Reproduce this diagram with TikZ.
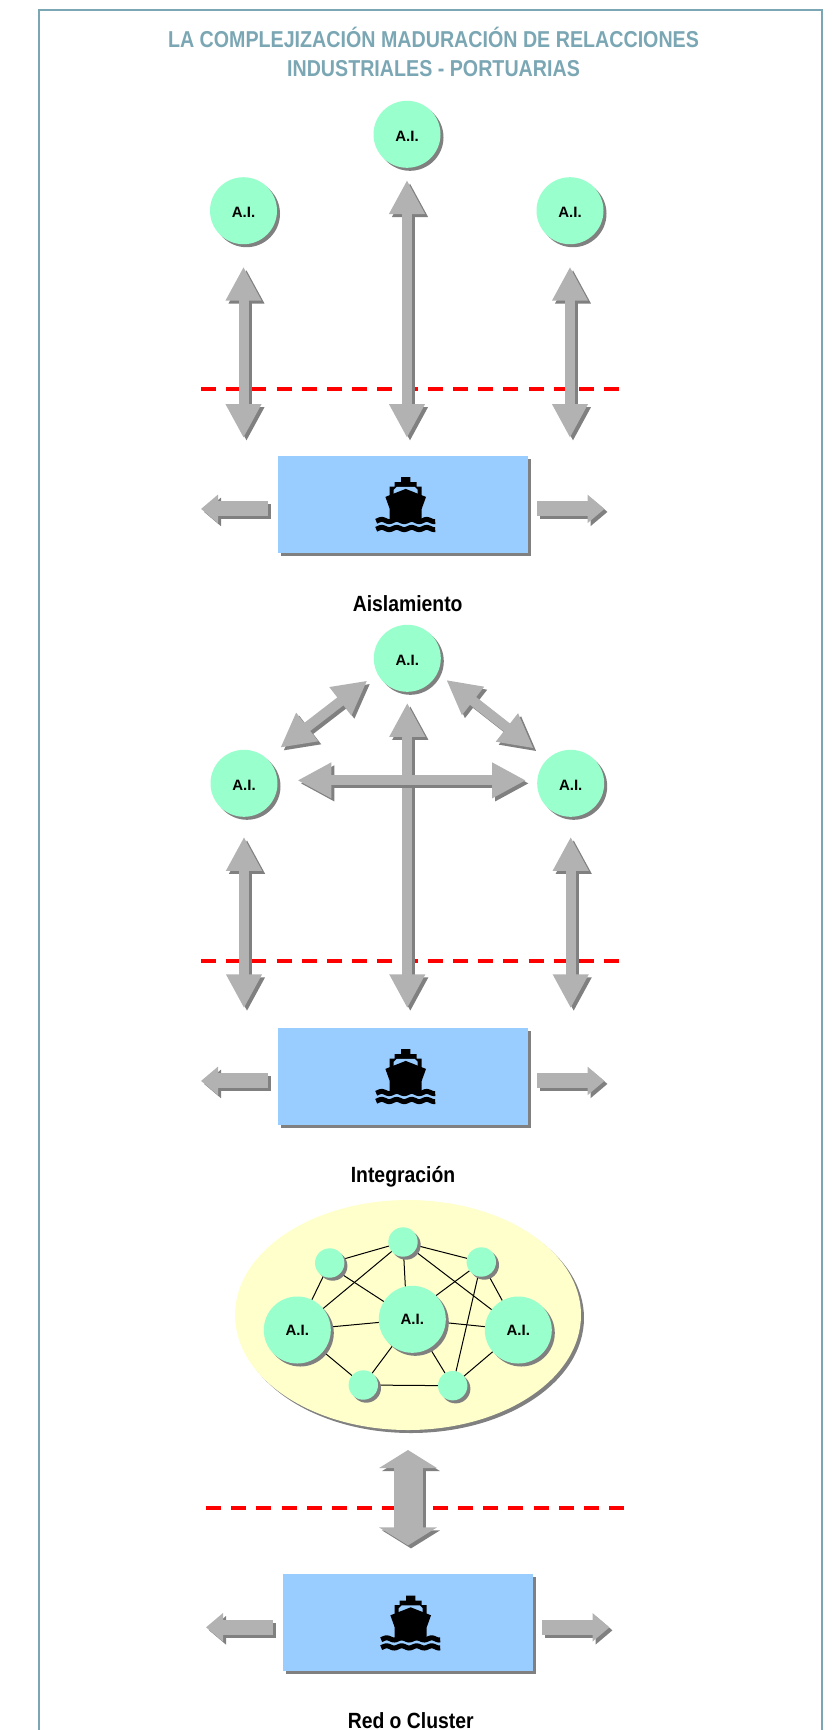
\documentclass[tikz,border=0pt]{standalone}
\usepackage{fontspec}
\setmainfont{Liberation Sans}
\newfontfamily\narrowfont[FakeStretch=0.88]{Liberation Sans}
\newfontfamily\titlefont[FakeStretch=0.855]{Liberation Sans}
\usetikzlibrary{arrows.meta,shapes.geometric,shadows,backgrounds}
\definecolor{framecolor}{HTML}{7BA7B4}
\definecolor{aicolor}{HTML}{99FFCC}
\definecolor{boxcolor}{HTML}{99CCFF}
\definecolor{clustercolor}{HTML}{FFFFCC}
\definecolor{arrowgray}{HTML}{B2B2B2}
\definecolor{shadowgray}{HTML}{808080}
\begin{document}
\begin{tikzpicture}[x=1pt,y=-1pt]

    \tikzset{
      dropped/.style={
        general shadow={shadow xshift=3pt,shadow yshift=-3pt,fill=shadowgray},
      },
      aicircle/.style={
        dropped,
        circle,
        fill=aicolor,
        inner sep=0pt,
        outer sep=0pt,
        minimum size=67pt,
        font=\fontsize{15}{15}\selectfont\bfseries,
      },
      aicirclelow/.style={
        aicircle,
        text height=13.7pt,
      },
      smallcircle/.style={
        aicircle,
        minimum size=29.4pt,
      },
      portbox/.style={
        dropped,
        rectangle,
        fill=boxcolor,
        inner sep=0pt,
        outer sep=0pt,
        minimum width=250pt,
        minimum height=97pt,
      },
      caption/.style={
        anchor=base,
        inner sep=0pt,
        font=\fontsize{22}{22}\selectfont\bfseries\narrowfont,
      },
      limit/.style={
        red,
        line width=4pt,
        dash pattern=on 15pt off 10.2pt,
      },
      blockarrow/.style={
        draw=arrowgray,
        line width=#1,
        preaction={draw=shadowgray,line width=#1,transform canvas={shift={(3pt,-3pt)}}},
      },
      linkarrow/.style={
        blockarrow=10pt,
        >={Triangle[length=34pt,width=33.5pt]},
        <->,
      },
      exitarrow/.style={
        blockarrow=15pt,
        ->,
        >={Triangle[length=17pt,width=27.5pt]},
      },
      shipicon/.pic={
        \fill (-4.6,-27.7) -- (4.6,-27.7) -- (4.6,-22.7) -- (11,-22.7) -- (11,-18.3) -- (16,-18.3)
          -- (16,-8) -- (-16,-8) -- (-16,-18.3) -- (-11,-18.3) -- (-11,-22.7) -- (-4.6,-22.7) -- cycle;
        \fill[boxcolor] (-12,-15) -- (-9,-18) -- (9,-18) -- (12,-15) -- (12,-9) -- (-12,-9) -- cycle;
        \fill (0,-16) -- (20.3,-8) -- (16,4) -- (16,17) -- (-16,17) -- (-16,4) -- (-20.3,-8) -- cycle;
        \draw[line width=5pt] plot[smooth,domain=-29.5:29.5,samples=50] (\x,{15.6+1.1*cos((\x+1.5)*24)});
        \draw[line width=5pt] plot[smooth,domain=-29.5:29.5,samples=50] (\x,{23.6+1.1*cos((\x+1.5)*24)});
      },
    }
    \useasboundingbox (0,0) rectangle (833,1730);
    \draw[framecolor,line width=2pt] (39,1731) -- (39,10) -- (822,10) -- (822,1731);
    \node[align=center,text=framecolor,font=\fontsize{23}{29.5}\selectfont\bfseries\titlefont] (title) at (433.5,52) {LA COMPLEJIZACIÓN MADURACIÓN DE RELACCIONES\\INDUSTRIALES - PORTUARIAS};

    \draw[limit] (201,389) -- (619,389);
    \draw[limit] (201,961) -- (619,961);
    \draw[limit] (206,1507.7) -- (624,1507.7);

    \foreach \n/\xpos/\ypos in {1/403/504.5,2/403/1076.5,3/408/1622.9}{
      \node[portbox] (box\n) at (\xpos,\ypos) {};
      \pic at ([xshift=2.7pt,yshift=-0.4pt]box\n.center) {shipicon};
      \coordinate (westtip\n) at ([shift={(-77pt,-4.4pt)}]box\n.west);
      \coordinate (easttip\n) at ([shift={(76.5pt,-4.4pt)}]box\n.east);
      \draw[exitarrow,shorten <=10pt] (box\n.west |- westtip\n) -- (westtip\n);
      \draw[exitarrow,shorten <=9pt] (box\n.east |- easttip\n) -- (easttip\n);
    }

    \node[aicirclelow] (topa) at (407,134.3) {A.I.};
    \node[aicirclelow] (lefta) at (243.5,210.7) {A.I.};
    \node[aicirclelow] (righta) at (570,210.7) {A.I.};
    \draw[linkarrow,xshift=-1pt,shorten <=12.2pt,shorten >=18pt] (topa.south) -- (topa.south |- box1.north);
    \draw[linkarrow,xshift=-1pt,shorten <=22.5pt,shorten >=18pt] (lefta.south) -- (lefta.south |- box1.north);
    \draw[linkarrow,xshift=-1pt,shorten <=22.5pt,shorten >=18pt] (righta.south) -- (righta.south |- box1.north);
    \node[caption] (isolated) at (407.7,611.7) {Aislamiento};

    \node[aicirclelow] (topb) at (407.3,658.3) {A.I.};
    \node[aicirclelow] (leftb) at (244,783.3) {A.I.};
    \node[aicirclelow] (rightb) at (570.7,783.3) {A.I.};
    \draw[linkarrow,shorten <=11pt,shorten >=19.7pt] (topb.south) -- (topb.south |- box2.north);
    \draw[linkarrow,xshift=-1.3pt,shorten <=20pt,shorten >=19.7pt] (leftb.south) -- (leftb.south |- box2.north);
    \draw[linkarrow,xshift=-1.7pt,shorten <=20pt,shorten >=19.7pt] (rightb.south) -- (rightb.south |- box2.north);
    \draw[linkarrow,shorten <=20pt,shorten >=11.3pt] (leftb.5) -- (rightb.175);
    \draw[linkarrow,shorten <=12.5pt,shorten >=17.5pt] (topb.206) -- (leftb.48);
    \draw[linkarrow,shorten <=11.3pt,shorten >=17.5pt] (topb.-26) -- (rightb.134);
    \node[caption] (integrated) at (403,1182.7) {Integración};

    \begin{scope}[on background layer]
      \node[dropped,ellipse,fill=clustercolor,inner sep=0pt,outer sep=0pt,minimum width=346pt,minimum height=230pt] (cluster) at (408,1315) {};
    \end{scope}
    \node[aicircle] (bigleft) at (297.3,1330) {A.I.};
    \node[aicircle] (bigmid) at (412.3,1319.3) {A.I.};
    \node[aicircle] (bigright) at (518.3,1330) {A.I.};
    \node[smallcircle] (upleft) at (329.7,1263) {};
    \node[smallcircle] (uptop) at (403,1242) {};
    \node[smallcircle] (upright) at (481.3,1262) {};
    \node[smallcircle] (lowleft) at (363.3,1385) {};
    \node[smallcircle] (lowright) at (452.7,1385.7) {};
    \begin{scope}[on background layer]
      \foreach \from/\to in {upleft/uptop,uptop/upright,upleft/bigleft,upleft.-44/bigmid.148,uptop/bigleft,uptop/bigmid.102,uptop/bigright,upright/bigmid.45,upright/bigright,upright/lowright,bigleft/bigmid,bigmid/bigright,bigleft/lowleft,bigmid/lowleft,bigmid/lowright,bigright/lowright,lowleft/lowright}
        \draw[line width=1pt] (\from) -- (\to);
    \end{scope}
    \draw[blockarrow=29pt,<->,>={Triangle[length=18pt,width=57pt]},shorten <=20pt,shorten >=29pt] (cluster.south) -- (box3.north);
    \node[caption] (network) at (410.7,1728) {Red o Cluster};

\end{tikzpicture}
\end{document}
